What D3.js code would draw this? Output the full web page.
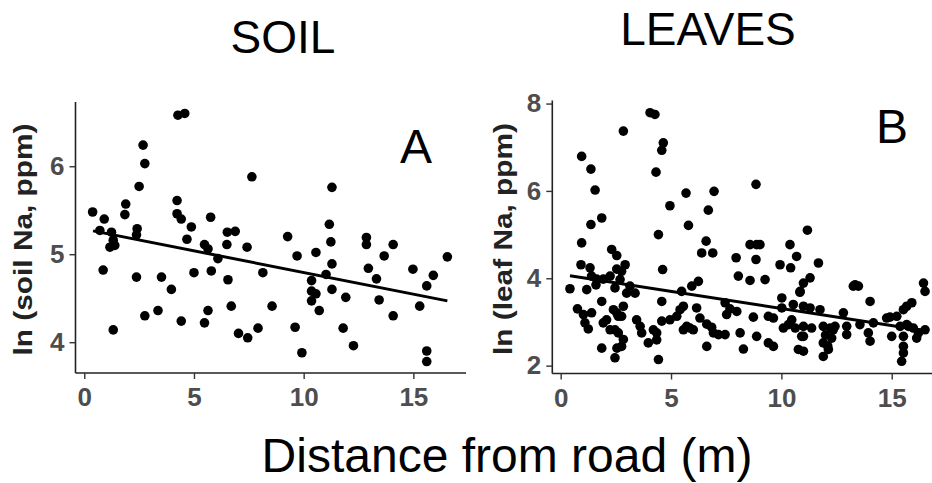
<!DOCTYPE html>
<html lang="en">
<head>
<meta charset="UTF-8">
<title>soil and leaf Na</title>
<script src="https://d3js.org/d3.v7.min.js"></script>
<style>
  body { margin: 0; background: #fff; }
  svg { display: block; font-family: "Liberation Sans", Arial, sans-serif; }
  .tick text { font-weight: bold; fill: #4d4d4d; }
</style>
</head>
<body>
<div id="chart"></div>
<script>
// distance (m), ln Na (ppm)
var soilPoints = [
  [0.38,5.48],[0.91,5.40],[0.71,5.27],[1.24,5.25],[1.32,5.16],[1.17,5.08],[1.39,5.10],[0.86,4.82],
  [1.32,4.14],[1.89,5.57],[1.85,5.45],[2.41,5.29],[2.38,5.22],[2.50,5.77],[2.68,6.24],[2.76,6.03],
  [2.38,4.74],[2.76,4.30],[3.36,4.36],[3.52,4.74],[3.97,4.60],[4.27,6.58],[4.58,6.60],[4.23,5.61],
  [4.23,5.46],[4.42,5.40],[4.88,5.31],[4.68,5.17],[4.42,4.24],[5.00,4.79],[5.48,5.11],[5.64,5.06],
  [5.76,5.42],[5.79,4.81],[6.09,4.95],[5.64,4.36],[5.48,4.22],[6.52,5.25],[6.88,5.26],[6.50,5.11],
  [6.55,4.71],[6.70,4.41],[7.03,4.10],[7.45,4.05],[7.42,5.08],[7.64,5.88],[7.92,4.16],[8.14,4.79],
  [8.56,4.41],[9.27,5.20],[9.70,4.98],[9.61,4.17],[9.92,3.88],[10.56,5.02],[10.36,4.70],[10.36,4.58],
  [10.56,4.55],[10.36,4.47],[10.71,4.36],[11.02,4.77],[11.17,5.34],[11.29,5.76],[11.24,5.14],[11.29,4.89],
  [11.29,4.60],[11.80,4.16],[11.92,4.51],[12.27,3.96],[12.86,5.19],[12.86,5.11],[12.95,4.84],[13.32,4.72],
  [13.67,4.98],[13.44,4.48],[14.08,5.11],[14.08,4.30],[14.98,4.83],[15.29,4.41],[15.61,4.64],[15.91,4.76],
  [15.61,3.90],[15.61,3.78],[16.55,4.97]
];
var leafPoints = [
  [0.42,3.76],[0.76,3.30],[0.95,6.79],[0.95,4.81],[0.92,4.31],[1.37,6.50],[1.56,6.02],[1.37,5.23],
  [1.86,5.38],[1.33,4.24],[1.40,4.05],[1.18,3.74],[1.03,3.17],[1.10,2.98],[1.25,2.84],[1.40,3.21],
  [1.63,3.98],[1.60,3.85],[1.86,3.47],[1.86,2.40],[1.93,3.98],[2.31,4.66],[2.54,4.52],[2.54,4.21],
  [2.24,4.05],[2.69,3.97],[2.92,4.31],[2.84,7.37],[2.46,3.78],[2.39,3.28],[2.54,3.21],[2.84,3.36],
  [2.76,3.13],[2.61,2.75],[2.84,2.60],[2.46,2.18],[2.76,2.44],[2.08,3.05],[2.24,2.82],[1.93,2.98],
  [2.99,3.66],[3.14,3.82],[3.37,3.66],[3.44,3.05],[3.60,2.90],[3.67,2.75],[3.97,2.52],[4.05,7.79],
  [4.27,7.75],[4.65,7.10],[4.58,6.93],[4.32,6.43],[4.43,5.00],[4.95,5.66],[4.62,4.20],[4.58,3.47],
  [4.20,2.82],[4.35,2.75],[4.43,2.14],[4.58,3.02],[4.95,3.05],[5.26,3.13],[5.41,3.28],[5.56,3.36],
  [5.48,3.70],[5.56,2.82],[5.86,2.86],[5.71,2.90],[5.68,5.95],[5.79,5.21],[5.94,3.82],[6.24,3.93],
  [6.16,3.32],[6.31,3.09],[6.01,2.82],[6.62,2.95],[6.62,2.44],[6.69,5.56],[6.59,4.85],[6.39,4.58],
  [6.89,4.58],[6.95,5.99],[6.92,2.75],[7.15,2.71],[7.45,2.71],[7.45,3.44],[7.52,3.17],[7.67,3.30],
  [7.95,4.47],[8.05,4.05],[7.98,3.24],[8.13,2.75],[8.28,2.38],[8.58,4.77],[8.88,4.77],[8.85,6.15],
  [8.85,4.43],[8.58,3.95],[8.73,3.11],[8.88,2.67],[9.26,3.97],[9.41,3.13],[9.64,3.09],[9.41,2.52],
  [9.64,2.44],[9.94,4.31],[10.02,3.55],[10.02,3.32],[10.09,2.86],[10.39,4.77],[10.42,4.24],[10.69,4.50],
  [10.54,3.40],[10.32,2.94],[10.63,2.86],[10.47,3.05],[10.85,3.70],[11.00,3.89],[11.30,4.01],[11.18,5.10],
  [11.68,4.35],[11.00,3.36],[11.30,3.32],[11.75,3.28],[11.00,2.90],[11.37,2.86],[11.00,2.67],[10.77,2.37],
  [11.00,2.33],[11.90,2.90],[11.90,2.52],[11.90,2.21],[12.13,2.37],[12.21,2.86],[12.28,2.63],[12.43,2.90],
  [12.81,3.21],[12.96,2.90],[12.96,2.71],[13.34,3.85],[13.49,3.82],[13.56,2.94],[14.02,3.47],[13.94,2.75],
  [14.02,2.56],[14.17,2.98],[14.77,3.09],[15.00,2.67],[15.23,3.13],[15.38,2.90],[15.53,3.28],[15.68,3.36],
  [15.91,3.44],[15.53,2.67],[15.53,2.44],[15.53,2.29],[15.45,2.10],[15.76,2.90],[15.98,2.86],[16.21,2.75],
  [16.51,2.82],[16.44,3.89],[16.51,3.70],
  [2.76,4.16],[2.61,3.13],[2.46,2.82],[2.55,2.40],[4.35,2.59],[6.84,2.88],[12.00,2.70],[12.10,2.45],
  [10.92,2.67],[12.35,2.82],[14.92,3.11],[15.68,2.94],[16.13,2.63],[9.03,4.77],[10.84,3.68],[13.26,3.82]
];
// fitted line ends
var soilFitX = [0.4, 16.55];
var soilFitY = [5.265, 4.47];
var leafFitX = [0.42, 16.51];
var leafFitY = [4.06, 2.80];

var xTicks = [0, 5, 10, 15];
var soilTicks = [4, 5, 6];
var leafTicks = [2, 4, 6, 8];

var width = 932, height = 483;

var svg = d3.select('#chart').append('svg')
    .attr('width', width)
    .attr('height', height);

function panel(opts) {
    var x = d3.scaleLinear().domain(opts.xDomain).range(opts.xRange);
    var y = d3.scaleLinear().domain(opts.yDomain).range(opts.yRange);
    var g = svg.append('g');

    // axes
    var xAxis = g.append('g')
        .attr('transform', 'translate(0,' + opts.yRange[0] + ')')
        .call(d3.axisBottom(x).tickValues(xTicks).tickFormat(d3.format('d'))
            .tickSize(6).tickPadding(5));
    var yAxis = g.append('g')
        .attr('transform', 'translate(' + opts.xRange[0] + ',0)')
        .call(d3.axisLeft(y).tickValues(opts.yTicks).tickFormat(d3.format('d'))
            .tickSize(6).tickPadding(5));

    [xAxis, yAxis].forEach(function(a) {
        a.select('.domain').attr('stroke', '#222').attr('stroke-width', 1.6)
            .attr('d', a === xAxis
                ? 'M' + opts.xRange[0] + ',0H' + opts.xRange[1]
                : 'M0,' + opts.yRange[0] + 'V' + opts.yRange[1]);
        a.selectAll('.tick line').attr('stroke', '#333').attr('stroke-width', 1.4);
        a.selectAll('.tick text').style('font-size', '26px');
    });
    xAxis.selectAll('.tick text').attr('dy', '0.85em');

    // points
    g.append('g').selectAll('circle')
        .data(opts.points)
        .enter().append('circle')
        .attr('cx', function(d) { return x(d[0]); })
        .attr('cy', function(d) { return y(d[1]); })
        .attr('r', 4.8)
        .attr('fill', '#000');

    // fit
    var line = d3.line()
        .x(function(d) { return x(d[0]); })
        .y(function(d) { return y(d[1]); });
    g.append('path')
        .datum(d3.zip(opts.fitX, opts.fitY))
        .attr('d', line)
        .attr('fill', 'none')
        .attr('stroke', '#000')
        .attr('stroke-width', 3);

    // y label
    var cy = (opts.yRange[0] + opts.yRange[1]) / 2 + 2;
    g.append('text')
        .attr('transform', 'translate(' + opts.labelX + ',' + cy + ') rotate(-90)')
        .attr('text-anchor', 'middle')
        .attr('textLength', 232)
        .attr('lengthAdjust', 'spacingAndGlyphs')
        .style('font-size', '25px')
        .style('font-weight', 'bold')
        .style('fill', '#222')
        .text(opts.ylabel);

    // panel letter
    g.append('text')
        .attr('x', opts.letterPos[0])
        .attr('y', opts.letterPos[1])
        .attr('text-anchor', 'middle')
        .style('font-size', '48px')
        .style('fill', '#000')
        .text(opts.letter);

    // title
    g.append('text')
        .attr('x', opts.titlePos[0])
        .attr('y', opts.titlePos[1])
        .attr('text-anchor', 'middle')
        .style('font-size', '46px')
        .style('fill', '#000')
        .text(opts.title);
}

panel({
    points: soilPoints, fitX: soilFitX, fitY: soilFitY,
    xDomain: [-0.4, 17.4], xRange: [75.5, 466],
    yDomain: [3.65, 6.73], yRange: [373, 102],
    yTicks: soilTicks, ylabel: 'ln (soil Na, ppm)', labelX: 32,
    letter: 'A', letterPos: [416, 163],
    title: 'SOIL', titlePos: [283, 53]
});

panel({
    points: leafPoints, fitX: leafFitX, fitY: leafFitY,
    xDomain: [-0.38, 17.31], xRange: [552.3, 942.7],
    yDomain: [1.82, 8.07], yRange: [373.5, 100.5],
    yTicks: leafTicks, ylabel: 'ln (leaf Na, ppm)', labelX: 512,
    letter: 'B', letterPos: [892, 143],
    title: 'LEAVES', titlePos: [708, 45]
});

svg.append('text')
    .attr('x', 507)
    .attr('y', 472)
    .attr('text-anchor', 'middle')
    .style('font-size', '48px')
    .style('fill', '#000')
    .text('Distance from road (m)');
</script>
</body>
</html>
